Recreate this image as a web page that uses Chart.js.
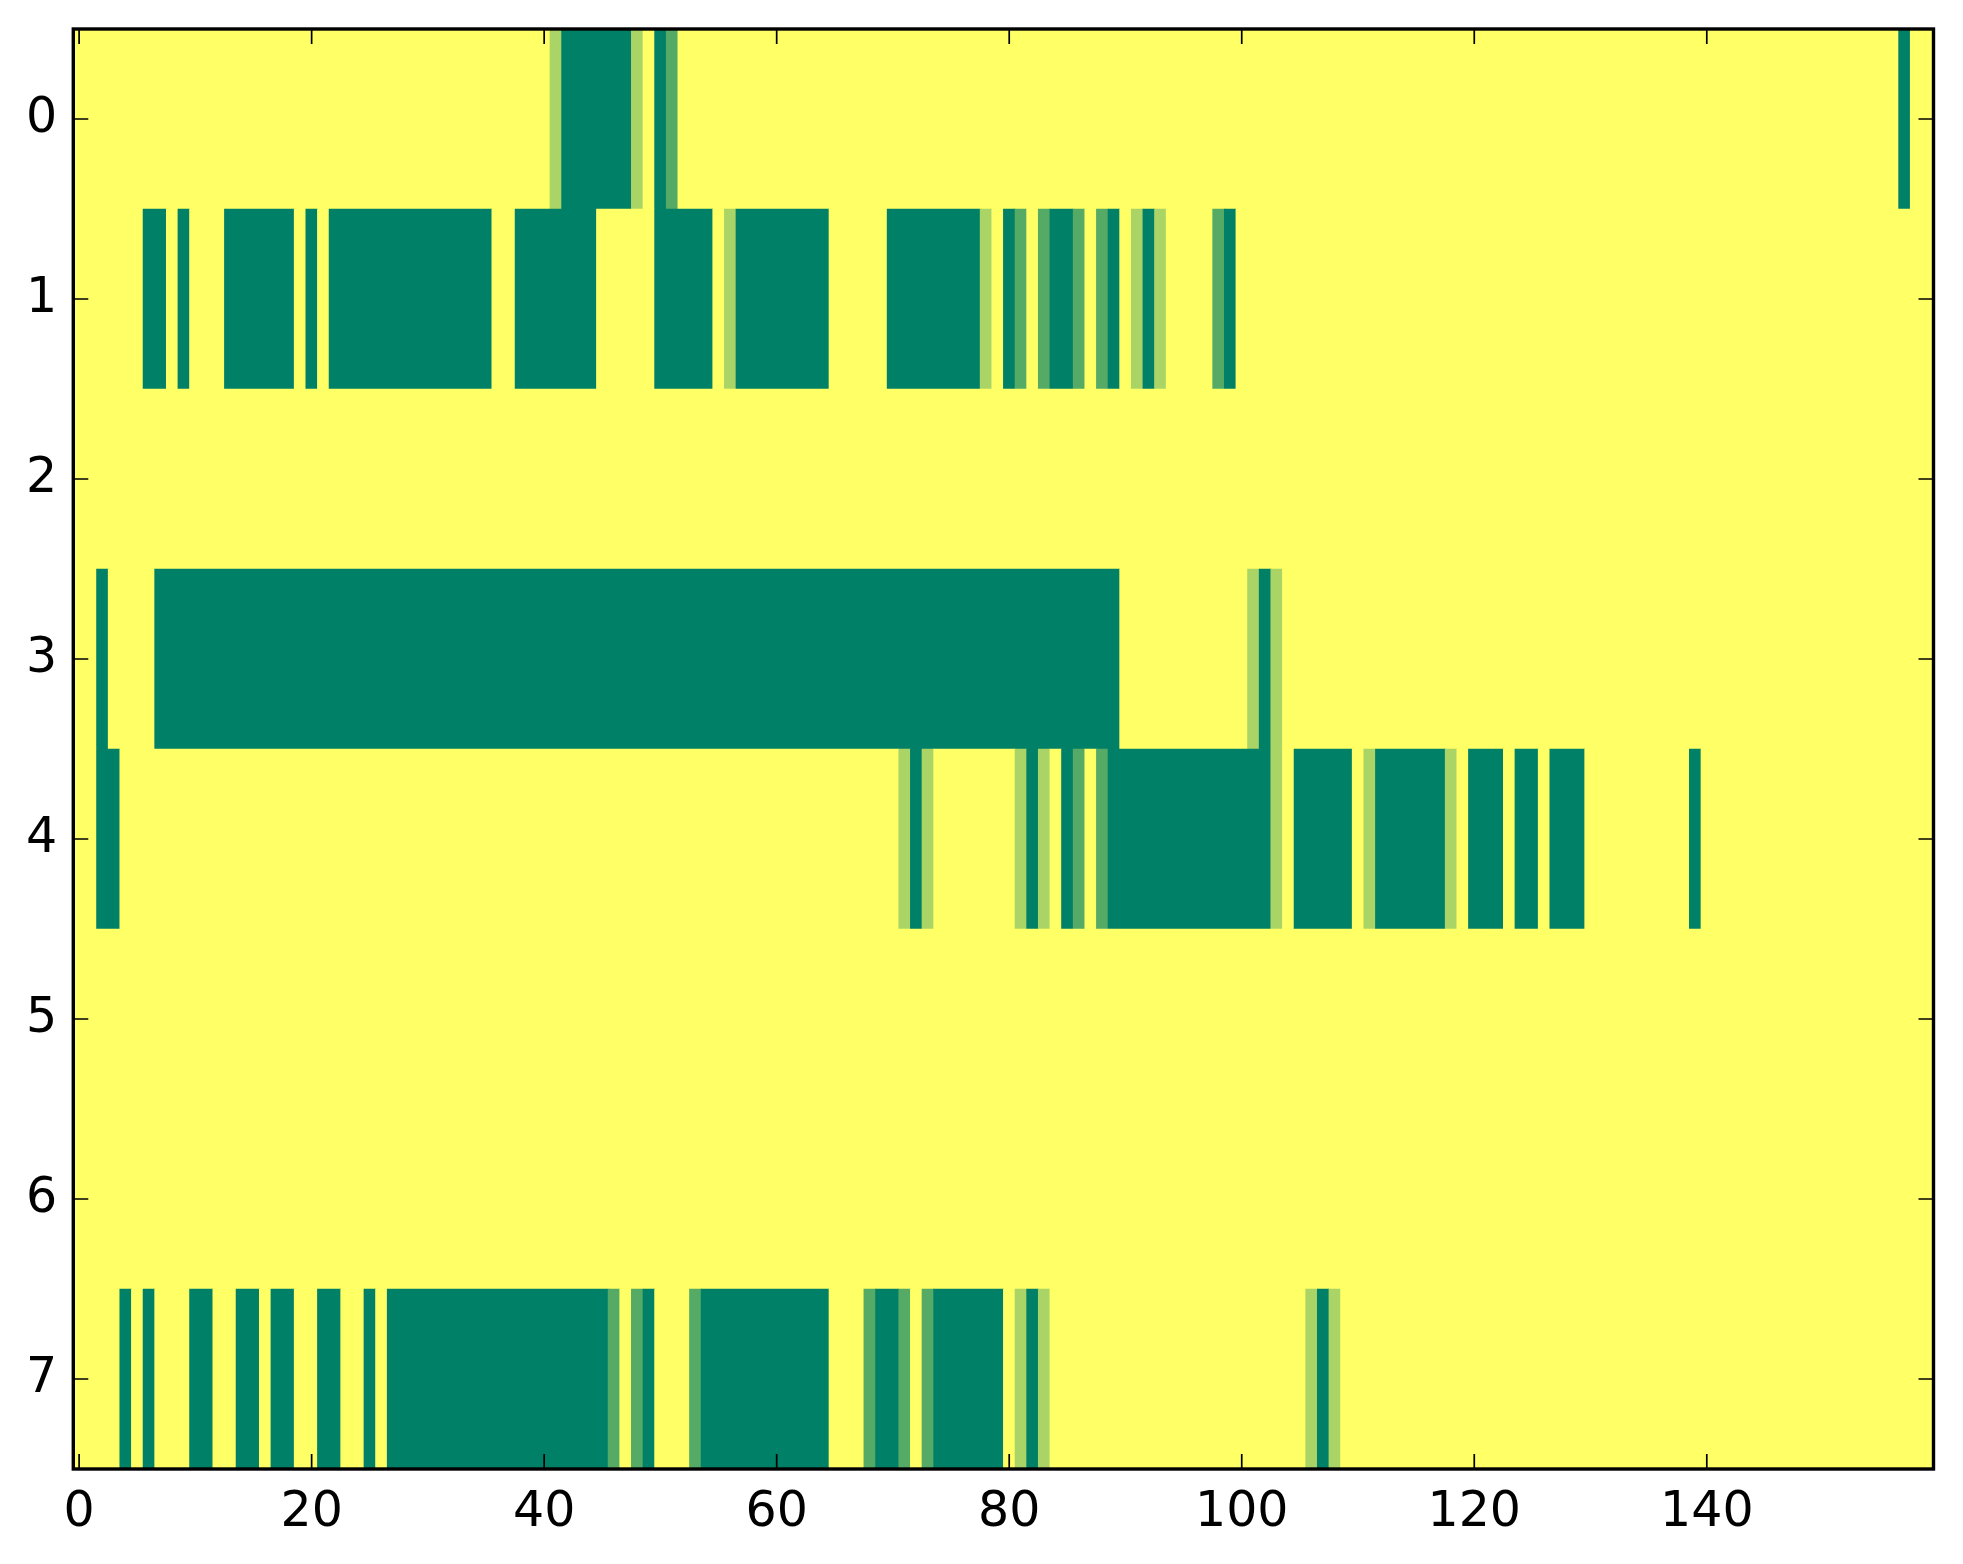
<!DOCTYPE html>
<html>
<head>
<meta charset="utf-8">
<script src="https://cdn.jsdelivr.net/npm/chart.js@4/dist/chart.umd.min.js"></script>
<style>
  html, body { margin: 0; padding: 0; background: #ffffff; }
  #wrap { width: 1963px; height: 1564px; position: relative; }
</style>
</head>
<body>
<div id="wrap"><canvas id="c" width="1963" height="1564"></canvas></div>
<script>
// ---- data: one array per image row (160 columns), level 0..3 (3 = top of colormap) ----
const rowLabels = ['0', '1', '2', '3', '4', '5', '6', '7'];
const xTickValues = [0, 20, 40, 60, 80, 100, 120, 140];

const row0 = [
  3,3,3,3,3,3,3,3,3,3, 3,3,3,3,3,3,3,3,3,3, 3,3,3,3,3,3,3,3,3,3, 3,3,3,3,3,3,3,3,3,3,
  3,2,0,0,0,0,0,0,2,3, 0,1,3,3,3,3,3,3,3,3, 3,3,3,3,3,3,3,3,3,3, 3,3,3,3,3,3,3,3,3,3,
  3,3,3,3,3,3,3,3,3,3, 3,3,3,3,3,3,3,3,3,3, 3,3,3,3,3,3,3,3,3,3, 3,3,3,3,3,3,3,3,3,3,
  3,3,3,3,3,3,3,3,3,3, 3,3,3,3,3,3,3,3,3,3, 3,3,3,3,3,3,3,3,3,3, 3,3,3,3,3,3,3,0,3,3
];
const row1 = [
  3,3,3,3,3,3,0,0,3,0, 3,3,3,0,0,0,0,0,0,3, 0,3,0,0,0,0,0,0,0,0, 0,0,0,0,0,0,3,3,0,0,
  0,0,0,0,0,3,3,3,3,3, 0,0,0,0,0,3,2,0,0,0, 0,0,0,0,0,3,3,3,3,3, 0,0,0,0,0,0,0,0,2,3,
  0,1,3,1,0,0,1,3,1,0, 3,2,0,2,3,3,3,3,1,0, 3,3,3,3,3,3,3,3,3,3, 3,3,3,3,3,3,3,3,3,3,
  3,3,3,3,3,3,3,3,3,3, 3,3,3,3,3,3,3,3,3,3, 3,3,3,3,3,3,3,3,3,3, 3,3,3,3,3,3,3,3,3,3
];
const row2 = [
  3,3,3,3,3,3,3,3,3,3, 3,3,3,3,3,3,3,3,3,3, 3,3,3,3,3,3,3,3,3,3, 3,3,3,3,3,3,3,3,3,3,
  3,3,3,3,3,3,3,3,3,3, 3,3,3,3,3,3,3,3,3,3, 3,3,3,3,3,3,3,3,3,3, 3,3,3,3,3,3,3,3,3,3,
  3,3,3,3,3,3,3,3,3,3, 3,3,3,3,3,3,3,3,3,3, 3,3,3,3,3,3,3,3,3,3, 3,3,3,3,3,3,3,3,3,3,
  3,3,3,3,3,3,3,3,3,3, 3,3,3,3,3,3,3,3,3,3, 3,3,3,3,3,3,3,3,3,3, 3,3,3,3,3,3,3,3,3,3
];
const row3 = [
  3,3,0,3,3,3,3,0,0,0, 0,0,0,0,0,0,0,0,0,0, 0,0,0,0,0,0,0,0,0,0, 0,0,0,0,0,0,0,0,0,0,
  0,0,0,0,0,0,0,0,0,0, 0,0,0,0,0,0,0,0,0,0, 0,0,0,0,0,0,0,0,0,0, 0,0,0,0,0,0,0,0,0,0,
  0,0,0,0,0,0,0,0,0,0, 3,3,3,3,3,3,3,3,3,3, 3,2,0,2,3,3,3,3,3,3, 3,3,3,3,3,3,3,3,3,3,
  3,3,3,3,3,3,3,3,3,3, 3,3,3,3,3,3,3,3,3,3, 3,3,3,3,3,3,3,3,3,3, 3,3,3,3,3,3,3,3,3,3
];
const row4 = [
  3,3,0,0,3,3,3,3,3,3, 3,3,3,3,3,3,3,3,3,3, 3,3,3,3,3,3,3,3,3,3, 3,3,3,3,3,3,3,3,3,3,
  3,3,3,3,3,3,3,3,3,3, 3,3,3,3,3,3,3,3,3,3, 3,3,3,3,3,3,3,3,3,3, 3,2,0,2,3,3,3,3,3,3,
  3,2,0,2,3,0,1,3,1,0, 0,0,0,0,0,0,0,0,0,0, 0,0,0,2,3,0,0,0,0,0, 3,2,0,0,0,0,0,0,2,3,
  0,0,0,3,0,0,3,0,0,0, 3,3,3,3,3,3,3,3,3,0, 3,3,3,3,3,3,3,3,3,3, 3,3,3,3,3,3,3,3,3,3
];
const row5 = [
  3,3,3,3,3,3,3,3,3,3, 3,3,3,3,3,3,3,3,3,3, 3,3,3,3,3,3,3,3,3,3, 3,3,3,3,3,3,3,3,3,3,
  3,3,3,3,3,3,3,3,3,3, 3,3,3,3,3,3,3,3,3,3, 3,3,3,3,3,3,3,3,3,3, 3,3,3,3,3,3,3,3,3,3,
  3,3,3,3,3,3,3,3,3,3, 3,3,3,3,3,3,3,3,3,3, 3,3,3,3,3,3,3,3,3,3, 3,3,3,3,3,3,3,3,3,3,
  3,3,3,3,3,3,3,3,3,3, 3,3,3,3,3,3,3,3,3,3, 3,3,3,3,3,3,3,3,3,3, 3,3,3,3,3,3,3,3,3,3
];
const row6 = [
  3,3,3,3,3,3,3,3,3,3, 3,3,3,3,3,3,3,3,3,3, 3,3,3,3,3,3,3,3,3,3, 3,3,3,3,3,3,3,3,3,3,
  3,3,3,3,3,3,3,3,3,3, 3,3,3,3,3,3,3,3,3,3, 3,3,3,3,3,3,3,3,3,3, 3,3,3,3,3,3,3,3,3,3,
  3,3,3,3,3,3,3,3,3,3, 3,3,3,3,3,3,3,3,3,3, 3,3,3,3,3,3,3,3,3,3, 3,3,3,3,3,3,3,3,3,3,
  3,3,3,3,3,3,3,3,3,3, 3,3,3,3,3,3,3,3,3,3, 3,3,3,3,3,3,3,3,3,3, 3,3,3,3,3,3,3,3,3,3
];
const row7 = [
  3,3,3,3,0,3,0,3,3,3, 0,0,3,3,0,0,3,0,0,3, 3,0,0,3,3,0,3,0,0,0, 0,0,0,0,0,0,0,0,0,0,
  0,0,0,0,0,0,1,3,1,0, 3,3,3,1,0,0,0,0,0,0, 0,0,0,0,0,3,3,3,1,0, 0,1,3,1,0,0,0,0,0,0,
  3,2,0,2,3,3,3,3,3,3, 3,3,3,3,3,3,3,3,3,3, 3,3,3,3,3,3,2,0,2,3, 3,3,3,3,3,3,3,3,3,3,
  3,3,3,3,3,3,3,3,3,3, 3,3,3,3,3,3,3,3,3,3, 3,3,3,3,3,3,3,3,3,3, 3,3,3,3,3,3,3,3,3,3
];
const rows = [row0, row1, row2, row3, row4, row5, row6, row7];
const levelMax = 3;

// matplotlib "summer" colormap: (v, 0.5 + 0.5 v, 0.4)
function summer(v) {
  const t = v / levelMax;
  const r = Math.round(255 * t);
  const g = Math.round(255 * (0.5 + 0.5 * t));
  const b = Math.round(255 * 0.4);
  return 'rgb(' + r + ',' + g + ',' + b + ')';
}

// build floating bars: each run of equal cells in a row becomes one bar (no seams)
const cells = [];
const colors = [];
rows.forEach((row, r) => {
  let start = 0;
  for (let i = 1; i <= row.length; i++) {
    if (i === row.length || row[i] !== row[start]) {
      cells.push({ y: rowLabels[r], x: [start - 0.5, (i - 1) + 0.5] });
      colors.push(summer(row[start]));
      start = i;
    }
  }
});
const nCols = row0.length;

const FONT = { family: 'DejaVu Sans', size: 49 };
const TICK_LEN = 15;

const framePlugin = {
  id: 'frameTicks',
  afterDraw(chart) {
    const ctx = chart.ctx;
    const { left, right, top, bottom } = chart.chartArea;
    const xs = chart.scales.x, ys = chart.scales.y;
    ctx.save();
    ctx.strokeStyle = '#000';
    ctx.lineWidth = 1.7;
    ctx.beginPath();
    xTickValues.forEach(v => {
      const px = xs.getPixelForValue(v);
      ctx.moveTo(px, bottom); ctx.lineTo(px, bottom - TICK_LEN);
      ctx.moveTo(px, top); ctx.lineTo(px, top + TICK_LEN);
    });
    rowLabels.forEach((lab, i) => {
      const py = ys.getPixelForValue(i);
      ctx.moveTo(left, py); ctx.lineTo(left + TICK_LEN, py);
      ctx.moveTo(right, py); ctx.lineTo(right - TICK_LEN, py);
    });
    ctx.stroke();
    ctx.lineWidth = 3.4;
    ctx.strokeRect(left, top, right - left, bottom - top);
    ctx.restore();
  }
};

new Chart(document.getElementById('c'), {
  type: 'bar',
  data: {
    labels: rowLabels,
    datasets: [{
      data: cells,
      backgroundColor: colors,
      borderWidth: 0,
      barPercentage: 1,
      categoryPercentage: 1
    }]
  },
  options: {
    indexAxis: 'y',
    responsive: false,
    animation: false,
    devicePixelRatio: 1,
    layout: { padding: { top: 29, right: 29.5, left: 0, bottom: 0 } },
    plugins: { legend: { display: false }, tooltip: { enabled: false } },
    scales: {
      x: {
        type: 'linear',
        position: 'bottom',
        min: -0.5,
        max: nCols - 0.5,
        grid: { display: false, drawTicks: false },
        border: { display: false },
        afterBuildTicks(scale) { scale.ticks = xTickValues.map(v => ({ value: v })); },
        afterFit(scale) { scale.height = 95; scale.paddingLeft = 0; scale.paddingRight = 0; },
        ticks: { font: FONT, color: '#000', padding: 15, maxRotation: 0, autoSkip: false }
      },
      y: {
        type: 'category',
        position: 'left',
        offset: true,
        grid: { display: false, drawTicks: false, offset: true },
        border: { display: false },
        afterFit(scale) { scale.width = 73.3; scale.paddingTop = 0; scale.paddingBottom = 0; },
        ticks: { font: FONT, color: '#000', padding: 16, autoSkip: false }
      }
    }
  },
  plugins: [framePlugin]
});
</script>
</body>
</html>
